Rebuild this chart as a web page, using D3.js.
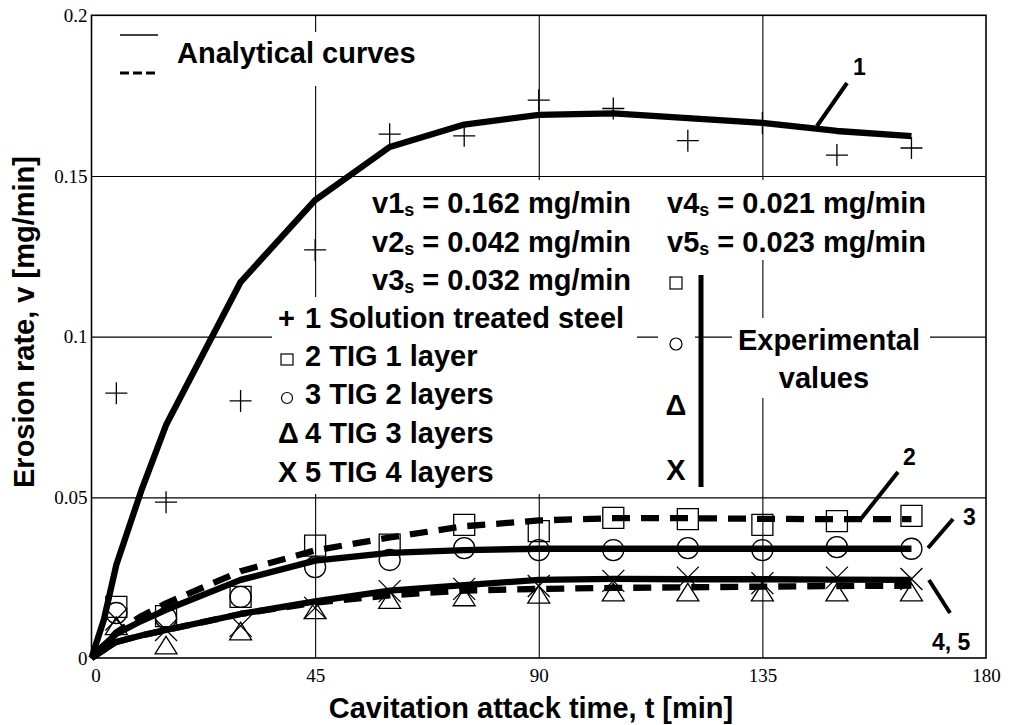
<!DOCTYPE html>
<html>
<head>
<meta charset="utf-8">
<script src="https://cdn.jsdelivr.net/npm/d3@7/dist/d3.min.js"></script>
<style>
  html, body { margin: 0; padding: 0; background: #fff; }
  svg { display: block; }
  .bold { font-family: "Liberation Sans", Arial, sans-serif; font-weight: bold; fill: #000; }
  .tick text { font-family: "Liberation Serif", "Times New Roman", serif; font-size: 19px; fill: #000; }
</style>
</head>
<body>
<svg id="chart" width="1013" height="725"></svg>
<script>
// ---------------- data ----------------
const xTicks = [0, 45, 90, 135, 180];
const yTicks = [0, 0.05, 0.1, 0.15, 0.2];
const gridX = [45, 90, 135];
const gridY = [0.05, 0.1, 0.15];

// experimental times [min]
const expTimes = [5, 15, 30, 45, 60, 75, 90, 105, 120, 135, 150, 165];
const exp1 = [0.0824, 0.0485, 0.080, 0.127, 0.163, 0.1625, 0.1736, 0.171, 0.161, 0.1665, 0.1565, 0.1587]; // + solution treated
const exp2 = [0.0159, 0.013, 0.019, 0.035, 0.0353, 0.0414, 0.0395, 0.0436, 0.0432, 0.0414, 0.0426, 0.0442]; // square TIG 1
const exp3 = [0.014, 0.0124, 0.019, 0.0283, 0.0305, 0.0342, 0.0336, 0.0336, 0.0342, 0.0336, 0.0345, 0.034]; // circle TIG 2
const exp4 = [0.010, 0.004, 0.0084, 0.015, 0.0182, 0.019, 0.0198, 0.0205, 0.0205, 0.0205, 0.0205, 0.0205]; // triangle TIG 3
const exp5 = [0.012, 0.0087, 0.010, 0.0156, 0.0208, 0.0215, 0.0224, 0.024, 0.025, 0.0233, 0.025, 0.0246]; // X TIG 4

// analytical curves
const curveTimes = [0, 2.5, 5, 10, 15, 30, 45, 60, 75, 90, 105, 120, 135, 150, 165];
const curve1 = [0, 0.012, 0.029, 0.052, 0.0725, 0.117, 0.1425, 0.159, 0.166, 0.169, 0.1695, 0.168, 0.1665, 0.164, 0.1624];
const curve2 = [0, 0.004, 0.008, 0.013, 0.017, 0.027, 0.0335, 0.0375, 0.041, 0.0428, 0.0435, 0.0435, 0.0433, 0.0432, 0.0432];
const curve3 = [0, 0.004, 0.0075, 0.0115, 0.015, 0.0243, 0.0303, 0.0327, 0.0336, 0.034, 0.034, 0.034, 0.034, 0.034, 0.034];
const curve4 = [0, 0.0025, 0.005, 0.007, 0.0087, 0.0137, 0.0172, 0.0195, 0.021, 0.0215, 0.0218, 0.022, 0.0222, 0.0224, 0.0225];
const curve5 = [0, 0.0025, 0.005, 0.007, 0.0087, 0.0137, 0.0176, 0.021, 0.0227, 0.0243, 0.0246, 0.0245, 0.0245, 0.0244, 0.0243];

const steadyNames = ["v1", "v2", "v3", "v4", "v5"];
const steadyValues = ["0.162", "0.042", "0.032", "0.021", "0.023"];
const seriesSymbols = ["+", "square", "circle", "Δ", "X"];
const seriesNames = ["1 Solution treated steel", "2 TIG 1 layer", "3 TIG 2 layers", "4 TIG 3 layers", "5 TIG 4 layers"];
const curveLabels = ["1", "2", "3", "4, 5"];

// ---------------- drawing ----------------
const svg = d3.select("#chart");
svg.append("rect").attr("width", 1013).attr("height", 725).attr("fill", "#fff");

const x = d3.scaleLinear().domain([0, 180]).range([91.5, 986]);
const y = d3.scaleLinear().domain([0, 0.2]).range([658, 15.3]);
const pw = x(180) - x(0), ph = y(0) - y(0.2);

// grid lines
const gx = svg.append("g").attr("transform", `translate(0,${y(0)})`)
  .call(d3.axisBottom(x).tickValues(gridX).tickSize(-ph).tickFormat(""));
const gy = svg.append("g").attr("transform", `translate(${x(0)},0)`)
  .call(d3.axisLeft(y).tickValues(gridY).tickSize(-pw).tickFormat(""));
[gx, gy].forEach(g => {
  g.select(".domain").remove();
  g.selectAll("line").attr("stroke", "#000").attr("stroke-width", 1.1);
});

// tick labels
const ax = svg.append("g").attr("transform", `translate(0,${y(0)})`)
  .call(d3.axisBottom(x).tickValues(xTicks).tickSize(0).tickPadding(11).tickFormat(d => String(d)));
const ay = svg.append("g").attr("transform", `translate(${x(0)},0)`)
  .call(d3.axisLeft(y).tickValues(yTicks).tickSize(0).tickPadding(4).tickFormat(d => String(d)));
[ax, ay].forEach(g => g.select(".domain").remove());
ax.selectAll(".tick text").attr("dx", (d) => d === 0 ? 4 : 0);

// white masks behind text blocks (gridlines interrupted)
const masks = [
  [168, 32, 260, 54],   // analytical curves
  [365, 180, 272, 117], // v1..v3
  [272, 297, 365, 197], // legend
  [660, 180, 272, 80],  // v4, v5
  [658, 326, 37, 34],   // circle symbol
  [732, 318, 198, 80]   // experimental values
];
svg.append("g").selectAll("rect").data(masks).join("rect")
  .attr("x", d => d[0]).attr("y", d => d[1]).attr("width", d => d[2]).attr("height", d => d[3])
  .attr("fill", "#fff");

// plot border
svg.append("rect").attr("x", x(0)).attr("y", y(0.2)).attr("width", pw).attr("height", ph)
  .attr("fill", "none").attr("stroke", "#000").attr("stroke-width", 1.6);

const FS = 29;

// Analytical curves legend
svg.append("line").attr("x1", 120).attr("x2", 158).attr("y1", 35).attr("y2", 35)
  .attr("stroke", "#000").attr("stroke-width", 1.3);
svg.append("line").attr("x1", 120).attr("x2", 156).attr("y1", 73).attr("y2", 73)
  .attr("stroke", "#000").attr("stroke-width", 3).attr("stroke-dasharray", "9,4");
svg.append("text").attr("class", "bold").attr("x", 177).attr("y", 63).attr("font-size", FS)
  .text("Analytical curves");

// steady state values
function steady(i, px, py) {
  const t = svg.append("text").attr("class", "bold").attr("x", px).attr("y", py).attr("font-size", FS);
  t.append("tspan").text(steadyNames[i]);
  t.append("tspan").attr("font-size", 18).attr("dy", 3).text("s");
  t.append("tspan").attr("dy", -3).text(" = " + steadyValues[i] + " mg/min");
}
steady(0, 372, 213);
steady(1, 372, 252);
steady(2, 372, 290);
steady(3, 667, 213);
steady(4, 667, 252);

// legend
const legBase = [328, 366, 404, 443, 482];
seriesNames.forEach((name, i) => {
  const by = legBase[i];
  const s = seriesSymbols[i];
  if (s === "square") {
    svg.append("rect").attr("x", 281).attr("y", by - 12).attr("width", 12).attr("height", 11)
      .attr("fill", "none").attr("stroke", "#000").attr("stroke-width", 1.2);
  } else if (s === "circle") {
    svg.append("circle").attr("cx", 287).attr("cy", by - 6).attr("r", 5.5)
      .attr("fill", "none").attr("stroke", "#000").attr("stroke-width", 1.2);
  } else {
    svg.append("text").attr("class", "bold").attr("x", 278).attr("y", by).attr("font-size", FS).text(s);
  }
  svg.append("text").attr("class", "bold").attr("x", 305).attr("y", by).attr("font-size", FS).text(name);
});

// right column experimental symbols
svg.append("rect").attr("x", 670).attr("y", 277).attr("width", 12).attr("height", 12)
  .attr("fill", "none").attr("stroke", "#000").attr("stroke-width", 1.2);
svg.append("circle").attr("cx", 676).attr("cy", 344).attr("r", 6)
  .attr("fill", "none").attr("stroke", "#000").attr("stroke-width", 1.2);
svg.append("text").attr("class", "bold").attr("x", 676).attr("y", 415).attr("font-size", FS)
  .attr("text-anchor", "middle").text("Δ");
svg.append("text").attr("class", "bold").attr("x", 676).attr("y", 480).attr("font-size", FS)
  .attr("text-anchor", "middle").text("X");
svg.append("line").attr("x1", 701).attr("x2", 701).attr("y1", 275).attr("y2", 487)
  .attr("stroke", "#000").attr("stroke-width", 5);
svg.append("text").attr("class", "bold").attr("x", 829).attr("y", 350).attr("font-size", FS)
  .attr("text-anchor", "middle").text("Experimental");
svg.append("text").attr("class", "bold").attr("x", 824).attr("y", 388).attr("font-size", FS)
  .attr("text-anchor", "middle").text("values");

// analytical curves
const lineGen = d3.line().x(d => x(d[0])).y(d => y(d[1]));
const curves = [
  { v: curve1, dash: null },
  { v: curve2, dash: "18,11" },
  { v: curve3, dash: null },
  { v: curve4, dash: "18,11" },
  { v: curve5, dash: null }
];
curves.forEach(c => {
  svg.append("path").datum(curveTimes.map((t, i) => [t, c.v[i]]))
    .attr("d", lineGen).attr("fill", "none").attr("stroke", "#000")
    .attr("stroke-width", 6.3).attr("stroke-linejoin", "round")
    .attr("stroke-dasharray", c.dash);
});

// markers
const mk = {
  plus: s => `M${-s},0H${s}M0,${-s}V${s}`,
  cross: s => `M${-s},${-s}L${s},${s}M${-s},${s}L${s},${-s}`,
  square: s => `M${-s},${-s}h${2*s}v${2*s}h${-2*s}Z`,
  circle: s => `M${s},0A${s},${s} 0 1,1 ${-s},0A${s},${s} 0 1,1 ${s},0Z`,
  triangle: s => `M0,${-s*0.8}L${s},${s*0.8}L${-s},${s*0.8}Z`
};
const expSeries = [
  { v: exp1, m: "plus", s: 11 },
  { v: exp2, m: "square", s: 10.5 },
  { v: exp3, m: "circle", s: 10.5 },
  { v: exp4, m: "triangle", s: 11 },
  { v: exp5, m: "cross", s: 11 }
];
expSeries.forEach(ser => {
  svg.append("g").selectAll("path").data(expTimes.map((t, i) => [t, ser.v[i]])).join("path")
    .attr("transform", d => `translate(${x(d[0])},${y(d[1])})`)
    .attr("d", mk[ser.m](ser.s))
    .attr("fill", "none").attr("stroke", "#000").attr("stroke-width", 1.3);
});

// curve labels and leaders
const leaders = [
  [817, 126, 847, 83],
  [860, 520, 898, 472],
  [928, 548, 953, 519],
  [929, 580, 950, 613]
];
svg.append("g").selectAll("line").data(leaders).join("line")
  .attr("x1", d => d[0]).attr("y1", d => d[1]).attr("x2", d => d[2]).attr("y2", d => d[3])
  .attr("stroke", "#000").attr("stroke-width", 4);
const labelPos = [[853, 75], [903, 465], [963, 525], [932, 650]];
curveLabels.forEach((l, i) => {
  svg.append("text").attr("class", "bold").attr("x", labelPos[i][0]).attr("y", labelPos[i][1])
    .attr("font-size", 23).text(l);
});

// axis titles
svg.append("text").attr("class", "bold").attr("font-size", FS)
  .attr("x", 531).attr("y", 718).attr("text-anchor", "middle")
  .text("Cavitation attack time, t [min]");
svg.append("text").attr("class", "bold").attr("font-size", FS)
  .attr("transform", "translate(34,322) rotate(-90)").attr("text-anchor", "middle")
  .text("Erosion rate, v [mg/min]");
</script>
</body>
</html>
